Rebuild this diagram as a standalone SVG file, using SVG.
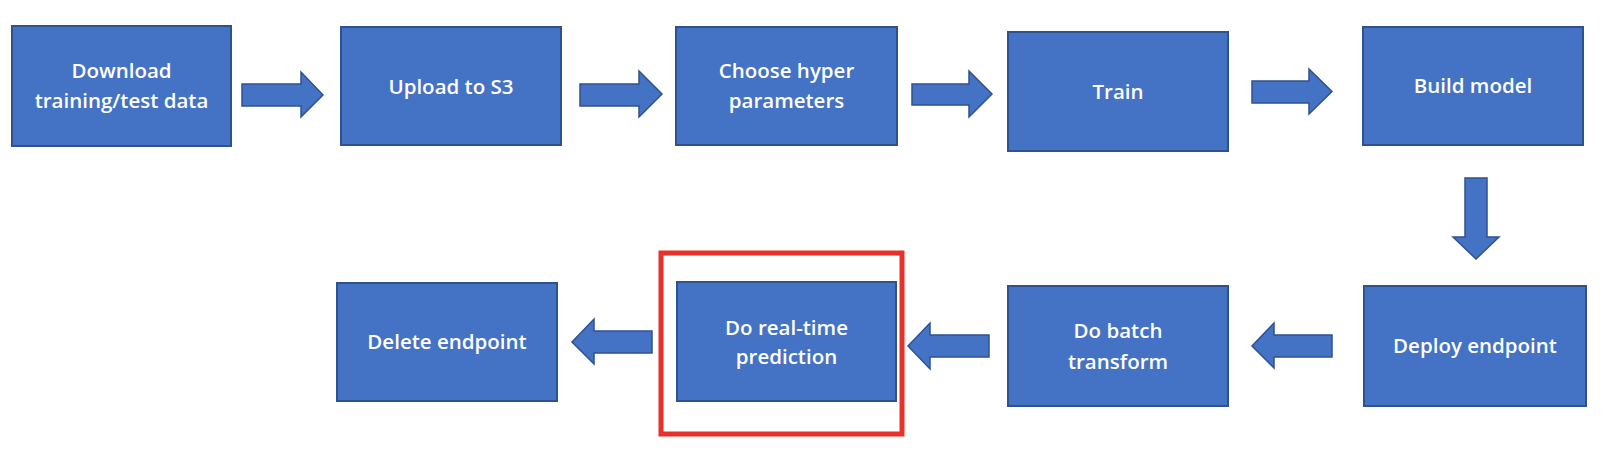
<svg xmlns="http://www.w3.org/2000/svg" width="1620" height="456" viewBox="0 0 1620 456">
<style>
.box{fill:#4472C4;stroke:#2F528F;stroke-width:2}
.arr{fill:#4472C4;stroke:#2F528F;stroke-width:1.5;stroke-linejoin:miter}
.t{fill:#FFFFFF;font-family:"Open Sans","Liberation Sans",sans-serif;font-size:20.5px;font-weight:600;text-anchor:middle}
.hl{fill:none;stroke:#E8312A;stroke-width:5}
</style>
<rect width="1620" height="456" fill="#FFFFFF"/>
<g id="connectors">
<polygon class="arr" points="242,84 301,84 301,72 323,95 301,117 301,106 242,106"/>
<polygon class="arr" points="580,84 639,84 639,71 662,94 639,117 639,106 580,106"/>
<polygon class="arr" points="912,84 969,84 969,71 992,94 969,117 969,105 912,105"/>
<polygon class="arr" points="1252,81 1309,81 1309,69 1332,91.5 1309,114 1309,103 1252,103"/>
<polygon class="arr" points="1465,178 1487,178 1487,237 1499,237 1476,259 1453,237 1465,237"/>
<polygon class="arr" points="1332,335 1274,335 1274,323 1252,346 1274,368 1274,357 1332,357"/>
<polygon class="arr" points="989,335 930,335 930,323 908,346 930,369 930,357 989,357"/>
<polygon class="arr" points="652,331 594,331 594,319 572,342 594,364 594,353 652,353"/>
</g>
<g id="n1"><rect class="box" x="12" y="26" width="219" height="120"/><text class="t" x="121.5" y="78">Download</text><text class="t" x="121.5" y="108">training/test data</text></g>
<g id="n2"><rect class="box" x="341" y="27" width="220" height="118"/><text class="t" x="451" y="94">Upload to S3</text></g>
<g id="n3"><rect class="box" x="676" y="27" width="221" height="118"/><text class="t" x="786.5" y="78">Choose hyper</text><text class="t" x="786.5" y="108">parameters</text></g>
<g id="n4"><rect class="box" x="1008" y="32" width="220" height="119"/><text class="t" x="1118" y="99">Train</text></g>
<g id="n5"><rect class="box" x="1363" y="27" width="220" height="118"/><text class="t" x="1473" y="93">Build model</text></g>
<g id="n6"><rect class="box" x="1364" y="286" width="222" height="120"/><text class="t" x="1475" y="353">Deploy endpoint</text></g>
<g id="n7"><rect class="box" x="1008" y="286" width="220" height="120"/><text class="t" x="1118" y="338">Do batch</text><text class="t" x="1118" y="369">transform</text></g>
<g id="n8"><rect class="box" x="677" y="282" width="219" height="119"/><text class="t" x="786.5" y="335">Do real-time</text><text class="t" x="786.5" y="364">prediction</text></g>
<g id="n9"><rect class="box" x="337" y="283" width="220" height="118"/><text class="t" x="447" y="349">Delete endpoint</text></g>
<g id="highlight"><rect class="hl" x="661" y="253" width="241" height="181"/></g>
</svg>
